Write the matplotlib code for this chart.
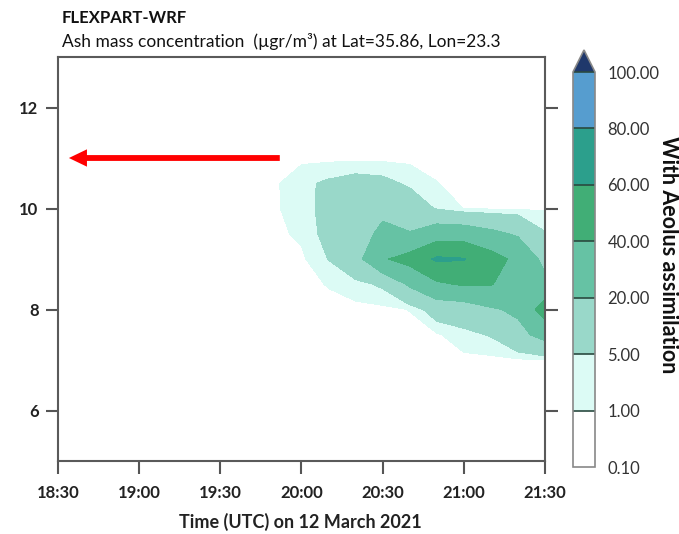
import matplotlib
matplotlib.use("Agg")
import matplotlib.pyplot as plt
import numpy as np
from matplotlib.colors import ListedColormap, BoundaryNorm

plt.rcParams['font.family'] = ['Lato', 'DejaVu Sans']

# --- Daten ---
times = ["19:40", "19:50", "20:00", "20:10", "20:20", "20:30",
         "20:40", "20:50", "21:00", "21:10", "21:20", "21:30"]
heights = [6.5, 7.0, 7.5, 8.0, 8.5, 9.0, 9.5, 10.0, 10.5, 11.0, 11.5]

# Konzentration (µgr/m³), Zeilen = Höhen (km), Spalten = Zeiten
conc_65 = [0, 0, 0, 0, 0, 0, 0, 0, 0, 0, 0, 0]
conc_70 = [0, 0, 0, 0, 0, 0, 0, 0, 0, 0, 0.3, 1.0]
conc_75 = [0, 0, 0, 0, 0, 0, 0, 0.5, 3.3, 5.5, 15, 26]
conc_80 = [0, 0, 0, 0, 0, 0, 1.1, 8.9, 10, 18, 23, 50]
conc_85 = [0, 0, 0, 1.2, 3, 6.1, 22.5, 37, 42, 41, 30, 25]
conc_90 = [0, 0, 0.2, 5.2, 14, 38, 47, 63, 61, 48, 35, 15]
conc_95 = [0, 0, 1.8, 7.1, 14, 23, 21, 30, 30, 24, 18, 5.5]
conc_100 = [0, 0.3, 3.5, 6.5, 12, 17, 10, 4.4, 0.9, 0.5, 0.5, 0.5]
conc_105 = [0, 0.3, 3.8, 6, 8, 7, 3.9, 1.1, 0, 0, 0, 0]
conc_110 = [0, 0, 0, 0, 0, 0, 0, 0, 0, 0, 0, 0]
conc_115 = [0, 0, 0, 0, 0, 0, 0, 0, 0, 0, 0, 0]

levels = [0.1, 1, 5, 20, 40, 60, 80, 100]
level_colors = ["#ffffff", "#dcfbf5", "#99d8c9", "#66c2a4",
                "#41ae76", "#2c9f8c", "#569dcf"]
over_color = "#1f386b"

x_ticks = ["18:30", "19:00", "19:30", "20:00", "20:30", "21:00", "21:30"]
y_ticks = [6, 8, 10, 12]

# Pfeil (Annotation) auf 11 km Höhe, zeigt nach links
arrow_tail = ("19:53", 11.0)
arrow_head = ("18:33", 11.0)


def to_hours(s):
    h, m = s.split(":")
    return int(h) + int(m) / 60


x = np.array([to_hours(t) for t in times])
y = np.array(heights)
conc = np.array([conc_65, conc_70, conc_75, conc_80, conc_85, conc_90,
                 conc_95, conc_100, conc_105, conc_110, conc_115])

cmap = ListedColormap(level_colors)
cmap.set_over(over_color)
norm = BoundaryNorm(levels, cmap.N)

fig = plt.figure(figsize=(6.79, 5.34), dpi=100)
ax = fig.add_axes([58 / 679, 1 - 461 / 534, 487 / 679, 404 / 534])

cs = ax.contourf(x, y, conc, levels=levels, cmap=cmap, norm=norm, extend="max")

ax.set_xlim(18.5, 21.5)
ax.set_ylim(5, 13)
ax.set_xticks([to_hours(t) for t in x_ticks])
ax.set_xticklabels(x_ticks, fontweight="bold", fontsize=12)
ax.set_yticks(y_ticks)
ax.set_yticklabels([str(v) for v in y_ticks], fontweight="bold", fontsize=12)
ax.tick_params(axis="both", direction="out", length=9, width=1.5,
               color="#555555", labelcolor="#222222")
ax.tick_params(axis="x", pad=8)
ax.tick_params(axis="y", right=True, pad=5)
for sp in ax.spines.values():
    sp.set_color("#5a5a5a")
    sp.set_linewidth(1.5)

ax.annotate("", xy=(to_hours(arrow_head[0]), arrow_head[1]),
            xytext=(to_hours(arrow_tail[0]), arrow_tail[1]),
            arrowprops=dict(arrowstyle="simple,head_length=1.3,head_width=1.25,tail_width=0.42",
                            mutation_scale=10, color="red", lw=0))

# --- Farbskala ---
cax = fig.add_axes([573 / 679, 1 - 467 / 534, 22 / 679, 417 / 534])
cb = fig.colorbar(cs, cax=cax, ticks=levels, extendfrac=22 / 395, drawedges=True)
cb.ax.set_yticklabels([f"{v:.2f}" for v in levels])
cb.ax.tick_params(length=0, pad=9, labelsize=12, labelcolor="#333333")
cb.outline.set_edgecolor("#888888")
cb.outline.set_linewidth(1.2)
cb.dividers.set_color("#2a4a40")
cb.dividers.set_linewidth(1.2)

fig.text(668 / 679, 1 - 255 / 534, "With Aeolus assimilation", rotation=270,
         ha="center", va="center", fontweight="bold", fontsize=15.5, color="#111111")

# --- Titel und Achsenbeschriftung ---
fig.text(62 / 679, 1 - 18 / 534, "FLEXPART-WRF", ha="left", va="center",
         fontweight="bold", fontsize=12, color="#111111")
fig.text(62 / 679, 1 - 42 / 534, "Ash mass concentration  (µgr/m³) at Lat=35.86, Lon=23.3",
         ha="left", va="center", fontsize=12.5, color="#111111")
fig.text(300 / 679, 1 - 522 / 534, "Time (UTC) on 12 March 2021", ha="center",
         va="center", fontweight="bold", fontsize=13, color="#222222")

fig.savefig("out.png", dpi=100)
